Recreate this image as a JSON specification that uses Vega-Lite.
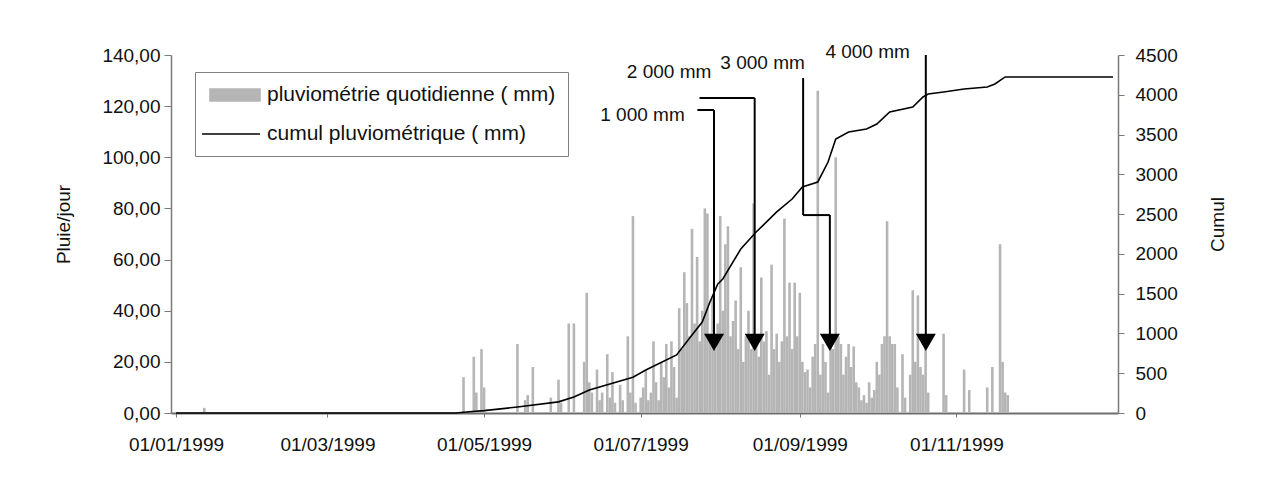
{
  "$schema": "https://vega.github.io/schema/vega-lite/v6.json",
  "width": 947,
  "height": 358,
  "autosize": {"type": "none"},
  "padding": {"left": 171, "top": 55, "right": 166, "bottom": 76},
  "background": "white",
  "config": {
    "font": "Liberation Sans",
    "view": {"stroke": null},
    "axis": {
      "labelFont": "Liberation Sans",
      "titleFont": "Liberation Sans",
      "labelFontSize": 19,
      "titleFontSize": 19,
      "titleFontWeight": "normal",
      "labelColor": "#111",
      "titleColor": "#111",
      "domainColor": "#7a7a7a",
      "tickColor": "#7a7a7a",
      "grid": false,
      "labelFlush": false,
      "labelOverlap": false
    }
  },
  "datasets": {
    "rain": [
      {"date": "1999/01/12", "rain": 2},
      {"date": "1999/04/23", "rain": 14},
      {"date": "1999/04/27", "rain": 22},
      {"date": "1999/04/28", "rain": 8},
      {"date": "1999/04/30", "rain": 25},
      {"date": "1999/05/01", "rain": 10},
      {"date": "1999/05/14", "rain": 27},
      {"date": "1999/05/17", "rain": 5},
      {"date": "1999/05/18", "rain": 7},
      {"date": "1999/05/20", "rain": 18},
      {"date": "1999/05/27", "rain": 6},
      {"date": "1999/05/30", "rain": 13},
      {"date": "1999/05/31", "rain": 4},
      {"date": "1999/06/03", "rain": 35},
      {"date": "1999/06/05", "rain": 35},
      {"date": "1999/06/09", "rain": 20},
      {"date": "1999/06/10", "rain": 47},
      {"date": "1999/06/11", "rain": 12},
      {"date": "1999/06/12", "rain": 8},
      {"date": "1999/06/14", "rain": 17},
      {"date": "1999/06/15", "rain": 5},
      {"date": "1999/06/16", "rain": 8},
      {"date": "1999/06/18", "rain": 23},
      {"date": "1999/06/19", "rain": 6},
      {"date": "1999/06/20", "rain": 16},
      {"date": "1999/06/21", "rain": 4},
      {"date": "1999/06/23", "rain": 11},
      {"date": "1999/06/24", "rain": 5},
      {"date": "1999/06/26", "rain": 30},
      {"date": "1999/06/27", "rain": 8},
      {"date": "1999/06/28", "rain": 77},
      {"date": "1999/06/29", "rain": 4},
      {"date": "1999/07/01", "rain": 6},
      {"date": "1999/07/02", "rain": 10},
      {"date": "1999/07/03", "rain": 17},
      {"date": "1999/07/04", "rain": 5},
      {"date": "1999/07/05", "rain": 8},
      {"date": "1999/07/06", "rain": 28},
      {"date": "1999/07/07", "rain": 12},
      {"date": "1999/07/08", "rain": 5},
      {"date": "1999/07/09", "rain": 20},
      {"date": "1999/07/10", "rain": 14},
      {"date": "1999/07/11", "rain": 27},
      {"date": "1999/07/12", "rain": 10},
      {"date": "1999/07/13", "rain": 28},
      {"date": "1999/07/14", "rain": 18},
      {"date": "1999/07/15", "rain": 6},
      {"date": "1999/07/16", "rain": 41},
      {"date": "1999/07/17", "rain": 25},
      {"date": "1999/07/18", "rain": 55},
      {"date": "1999/07/19", "rain": 43},
      {"date": "1999/07/20", "rain": 30},
      {"date": "1999/07/21", "rain": 72},
      {"date": "1999/07/22", "rain": 35},
      {"date": "1999/07/23", "rain": 61},
      {"date": "1999/07/24", "rain": 28},
      {"date": "1999/07/25", "rain": 40},
      {"date": "1999/07/26", "rain": 80},
      {"date": "1999/07/27", "rain": 78},
      {"date": "1999/07/28", "rain": 30},
      {"date": "1999/07/29", "rain": 45},
      {"date": "1999/07/30", "rain": 25},
      {"date": "1999/07/31", "rain": 35},
      {"date": "1999/08/01", "rain": 77},
      {"date": "1999/08/02", "rain": 40},
      {"date": "1999/08/03", "rain": 66},
      {"date": "1999/08/04", "rain": 73},
      {"date": "1999/08/05", "rain": 30},
      {"date": "1999/08/06", "rain": 36},
      {"date": "1999/08/07", "rain": 44},
      {"date": "1999/08/08", "rain": 25},
      {"date": "1999/08/09", "rain": 57},
      {"date": "1999/08/10", "rain": 20},
      {"date": "1999/08/11", "rain": 30},
      {"date": "1999/08/12", "rain": 40},
      {"date": "1999/08/13", "rain": 25},
      {"date": "1999/08/14", "rain": 82},
      {"date": "1999/08/15", "rain": 30},
      {"date": "1999/08/16", "rain": 22},
      {"date": "1999/08/17", "rain": 53},
      {"date": "1999/08/18", "rain": 28},
      {"date": "1999/08/19", "rain": 32},
      {"date": "1999/08/20", "rain": 15},
      {"date": "1999/08/21", "rain": 58},
      {"date": "1999/08/22", "rain": 25},
      {"date": "1999/08/23", "rain": 31},
      {"date": "1999/08/24", "rain": 20},
      {"date": "1999/08/25", "rain": 28},
      {"date": "1999/08/26", "rain": 76},
      {"date": "1999/08/27", "rain": 30},
      {"date": "1999/08/28", "rain": 51},
      {"date": "1999/08/29", "rain": 25},
      {"date": "1999/08/30", "rain": 51},
      {"date": "1999/08/31", "rain": 30},
      {"date": "1999/09/01", "rain": 47},
      {"date": "1999/09/02", "rain": 20},
      {"date": "1999/09/03", "rain": 16},
      {"date": "1999/09/04", "rain": 17},
      {"date": "1999/09/05", "rain": 10},
      {"date": "1999/09/06", "rain": 22},
      {"date": "1999/09/07", "rain": 27},
      {"date": "1999/09/08", "rain": 126},
      {"date": "1999/09/09", "rain": 15},
      {"date": "1999/09/10", "rain": 27},
      {"date": "1999/09/11", "rain": 20},
      {"date": "1999/09/12", "rain": 8},
      {"date": "1999/09/13", "rain": 30},
      {"date": "1999/09/14", "rain": 25},
      {"date": "1999/09/15", "rain": 100},
      {"date": "1999/09/16", "rain": 30},
      {"date": "1999/09/17", "rain": 27},
      {"date": "1999/09/18", "rain": 15},
      {"date": "1999/09/19", "rain": 22},
      {"date": "1999/09/20", "rain": 27},
      {"date": "1999/09/21", "rain": 18},
      {"date": "1999/09/22", "rain": 26},
      {"date": "1999/09/23", "rain": 12},
      {"date": "1999/09/24", "rain": 10},
      {"date": "1999/09/25", "rain": 5},
      {"date": "1999/09/26", "rain": 7},
      {"date": "1999/09/27", "rain": 4},
      {"date": "1999/09/28", "rain": 12},
      {"date": "1999/09/29", "rain": 6},
      {"date": "1999/09/30", "rain": 9},
      {"date": "1999/10/01", "rain": 20},
      {"date": "1999/10/02", "rain": 15},
      {"date": "1999/10/03", "rain": 27},
      {"date": "1999/10/04", "rain": 30},
      {"date": "1999/10/05", "rain": 75},
      {"date": "1999/10/06", "rain": 30},
      {"date": "1999/10/07", "rain": 27},
      {"date": "1999/10/08", "rain": 27},
      {"date": "1999/10/09", "rain": 10},
      {"date": "1999/10/11", "rain": 23},
      {"date": "1999/10/12", "rain": 6},
      {"date": "1999/10/14", "rain": 15},
      {"date": "1999/10/15", "rain": 48},
      {"date": "1999/10/16", "rain": 20},
      {"date": "1999/10/17", "rain": 46},
      {"date": "1999/10/18", "rain": 18},
      {"date": "1999/10/19", "rain": 15},
      {"date": "1999/10/20", "rain": 25},
      {"date": "1999/10/21", "rain": 8},
      {"date": "1999/10/27", "rain": 31},
      {"date": "1999/10/28", "rain": 7},
      {"date": "1999/11/04", "rain": 17},
      {"date": "1999/11/06", "rain": 9},
      {"date": "1999/11/13", "rain": 10},
      {"date": "1999/11/15", "rain": 18},
      {"date": "1999/11/18", "rain": 66},
      {"date": "1999/11/19", "rain": 20},
      {"date": "1999/11/20", "rain": 8},
      {"date": "1999/11/21", "rain": 7}
    ],
    "cumul": [
      {"date": "1999/01/01", "cumul": 0},
      {"date": "1999/04/20", "cumul": 0},
      {"date": "1999/04/23", "cumul": 10},
      {"date": "1999/05/01", "cumul": 30},
      {"date": "1999/05/14", "cumul": 75},
      {"date": "1999/05/30", "cumul": 140},
      {"date": "1999/06/05", "cumul": 200},
      {"date": "1999/06/11", "cumul": 290},
      {"date": "1999/06/28", "cumul": 450},
      {"date": "1999/07/03", "cumul": 540},
      {"date": "1999/07/15", "cumul": 730},
      {"date": "1999/07/21", "cumul": 980},
      {"date": "1999/07/25", "cumul": 1144},
      {"date": "1999/07/28", "cumul": 1395},
      {"date": "1999/07/31", "cumul": 1620},
      {"date": "1999/08/02", "cumul": 1684},
      {"date": "1999/08/09", "cumul": 2061},
      {"date": "1999/08/15", "cumul": 2275},
      {"date": "1999/08/23", "cumul": 2527},
      {"date": "1999/08/29", "cumul": 2690},
      {"date": "1999/09/02", "cumul": 2841},
      {"date": "1999/09/08", "cumul": 2904},
      {"date": "1999/09/12", "cumul": 3155},
      {"date": "1999/09/15", "cumul": 3444},
      {"date": "1999/09/20", "cumul": 3532},
      {"date": "1999/09/27", "cumul": 3570},
      {"date": "1999/10/01", "cumul": 3633},
      {"date": "1999/10/06", "cumul": 3784},
      {"date": "1999/10/15", "cumul": 3846},
      {"date": "1999/10/19", "cumul": 3972},
      {"date": "1999/10/21", "cumul": 4010},
      {"date": "1999/10/27", "cumul": 4035},
      {"date": "1999/11/04", "cumul": 4073},
      {"date": "1999/11/13", "cumul": 4098},
      {"date": "1999/11/16", "cumul": 4136},
      {"date": "1999/11/20", "cumul": 4224},
      {"date": "2000/01/01", "cumul": 4224}
    ],
    "segments": [
      {"date": "1999/07/23 02:00", "date2": "1999/07/29 14:00", "rain": 118.5, "rain2": 118.5},
      {"date": "1999/07/29 14:00", "date2": "1999/07/29 14:00", "rain": 118.5, "rain2": 29},
      {"date": "1999/07/23 22:00", "date2": "1999/08/14 10:00", "rain": 123.2, "rain2": 123.2},
      {"date": "1999/08/14 10:00", "date2": "1999/08/14 10:00", "rain": 123.2, "rain2": 29},
      {"date": "1999/09/02 07:00", "date2": "1999/09/02 07:00", "rain": 131, "rain2": 77.4},
      {"date": "1999/09/02 07:00", "date2": "1999/09/12 17:00", "rain": 77.4, "rain2": 77.4},
      {"date": "1999/09/12 17:00", "date2": "1999/09/12 17:00", "rain": 77.4, "rain2": 29},
      {"date": "1999/10/20 02:00", "date2": "1999/10/20 02:00", "rain": 140, "rain2": 29}
    ],
    "arrows": [
      {"date": "1999/07/29 14:00", "rain": 27.6},
      {"date": "1999/08/14 10:00", "rain": 27.6},
      {"date": "1999/09/12 17:00", "rain": 27.6},
      {"date": "1999/10/20 02:00", "rain": 27.6}
    ],
    "labels": [
      {"date": "1999/07/01 17:00", "rain": 116.5, "label": "1 000 mm"},
      {"date": "1999/07/12 02:00", "rain": 133.3, "label": "2 000 mm"},
      {"date": "1999/08/17 12:00", "rain": 136.9, "label": "3 000 mm"},
      {"date": "1999/09/27 10:00", "rain": 141.2, "label": "4 000 mm"}
    ]
  },
  "encoding": {
    "x": {
      "field": "date",
      "type": "temporal",
      "scale": {"domain": ["1999/01/01", "2000/01/01"], "nice": false},
      "axis": {
        "title": null,
        "values": ["1999/01/01", "1999/03/01", "1999/05/01", "1999/07/01", "1999/09/01", "1999/11/01"],
        "format": "%d/%m/%Y",
        "tickSize": 4,
        "labelPadding": 18,
        "domainWidth": 2,
        "domainColor": "#6e6e6e"
      }
    }
  },
  "layer": [
    {
      "encoding": {
        "y": {
          "field": "rain",
          "type": "quantitative",
          "scale": {"domain": [0, 140], "nice": false},
          "axis": {
            "title": "Pluie/jour",
            "values": [0, 20, 40, 60, 80, 100, 120, 140],
            "labelExpr": "replace(format(datum.value, '.2f'), '.', ',')",
            "tickSize": 7,
            "labelPadding": 4,
            "titlePadding": 28,
            "titleY": 169,
            "domainWidth": 1.5
          }
        }
      },
      "layer": [
        {
          "data": {"name": "rain"},
          "mark": {"type": "bar", "size": 2.6},
          "encoding": {
            "color": {
              "datum": "pluviométrie quotidienne ( mm)",
              "scale": {"domain": ["pluviométrie quotidienne ( mm)", "cumul pluviométrique ( mm)"], "range": ["#b5b5b5", "#000000"]},
              "legend": {
                "title": null,
                "orient": "none",
                "legendX": 24,
                "legendY": 17,
                "strokeColor": "#808080",
                "padding": 12,
                "labelFont": "Liberation Sans",
                "labelFontSize": 21,
                "labelColor": "#111",
                "labelOffset": 38,
                "symbolSize": 400,
                "rowPadding": 18,
                "labelLimit": 400,
                "encode": {
                  "symbols": {
                    "update": {
                      "shape": {"signal": "datum.value === 'cumul pluviométrique ( mm)' ? 'M-1.6,0H4.2' : 'M-0.8,-0.6H4.2V0.6H-0.8Z'"},
                      "fill": {"signal": "datum.value === 'cumul pluviométrique ( mm)' ? 'transparent' : '#b5b5b5'"},
                      "stroke": {"signal": "datum.value === 'cumul pluviométrique ( mm)' ? '#000000' : 'transparent'"},
                      "strokeWidth": {"value": 1.6},
                      "size": {"value": 400},
                      "opacity": {"value": 1}
                    }
                  }
                }
              }
            }
          }
        },
        {
          "data": {"name": "segments"},
          "mark": {"type": "rule", "color": "#000000", "strokeWidth": 2},
          "encoding": {
            "x2": {"field": "date2"},
            "y2": {"field": "rain2"}
          }
        },
        {
          "data": {"name": "arrows"},
          "mark": {"type": "point", "shape": "triangle-down", "filled": true, "size": 400, "color": "#000000", "opacity": 1},
          "encoding": {}
        },
        {
          "data": {"name": "labels"},
          "mark": {"type": "text", "font": "Liberation Sans", "fontSize": 19, "align": "center", "baseline": "middle", "color": "#111"},
          "encoding": {"text": {"field": "label"}}
        }
      ]
    },
    {
      "data": {"name": "cumul"},
      "mark": {"type": "line", "strokeWidth": 1.6, "color": "#000000"},
      "encoding": {
        "y": {
          "field": "cumul",
          "type": "quantitative",
          "scale": {"domain": [0, 4500], "nice": false},
          "axis": {
            "orient": "right",
            "title": "Cumul",
            "values": [0, 500, 1000, 1500, 2000, 2500, 3000, 3500, 4000, 4500],
            "format": "d",
            "tickSize": 6,
            "labelPadding": 11,
            "titleAngle": 270,
            "titleBaseline": "bottom",
            "titlePadding": 50,
            "titleY": 169,
            "domainWidth": 1.5
          }
        },
        "color": {"datum": "cumul pluviométrique ( mm)"}
      }
    }
  ],
  "resolve": {"scale": {"y": "independent"}}
}
